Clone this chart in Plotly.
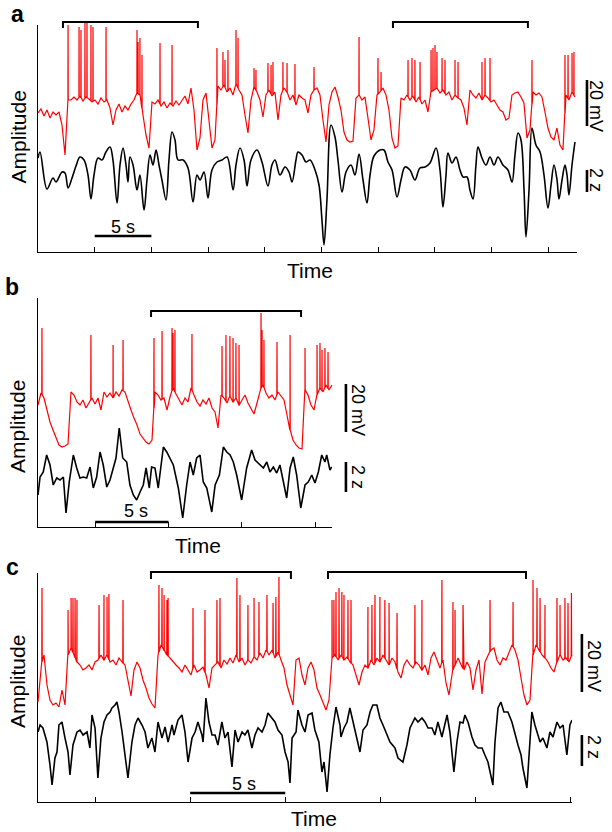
import numpy as np
import plotly.graph_objects as go

W, H = 612, 832
RED = "#ff0000"
FONT = "Arial, 'Liberation Sans', sans-serif"

# ============================ DATA ============================
# Panel a : membrane potential (uniformly sampled, arbitrary amplitude units), spikes, LFP (z)
a_duration = 47.35
a_vm = [139,143,136,142,134,140,137,140,127,97,
        152,152,155,152,156,151,155,153,150,152,
        148,154,150,152,144,127,142,148,140,146,
        142,148,152,159,157,137,117,104,150,148,
        152,146,150,144,149,146,151,147,152,156,
        148,164,142,102,114,152,159,132,104,112,
        166,162,167,160,164,157,168,162,157,137,
        119,152,165,160,152,135,157,162,156,160,
        132,157,164,160,152,157,147,157,154,152,
        139,157,162,164,157,132,110,147,160,165,
        155,142,120,112,110,111,154,157,152,155,
        134,112,122,157,160,164,157,142,114,104,
        106,154,152,157,152,156,150,155,148,152,
        140,160,162,164,159,162,157,160,152,157,
        154,152,144,127,162,157,154,159,152,157,
        154,150,152,147,142,140,132,134,157,159,
        160,155,149,114,122,160,157,159,155,140,
        124,115,112,124,107,102,157,152,160,155]
a_spike_t = [2.65,3.62,3.79,4.14,4.32,4.67,4.85,6.00,8.73,8.82,8.99,9.17,10.76,11.82,
             15.78,16.31,16.49,16.75,17.46,17.64,19.05,19.22,20.28,20.55,20.72,21.60,21.96,
             22.66,24.34,28.31,29.98,30.25,32.63,32.98,33.24,33.69,34.66,34.83,35.01,35.18,
             35.63,35.89,36.77,37.04,39.15,39.42,39.86,43.56,46.47,46.74,47.09,47.26]
a_spike_peak = [227,225,222,230,231,227,225,225,222,210,214,197,209,207,
                204,200,192,202,222,214,184,182,189,187,190,190,189,
                188,185,215,194,180,192,194,192,190,202,204,207,200,
                194,192,192,190,190,194,194,192,197,197,199,200]
a_lfp_t = [0,0.18,0.79,1.32,1.59,2.12,2.38,2.65,3.00,3.35,
           3.70,4.06,4.41,4.67,4.94,5.29,5.64,5.99,6.35,6.61,
           6.97,7.23,7.50,7.76,7.94,8.11,8.38,8.73,8.99,9.35,
           9.61,9.88,10.14,10.41,10.67,10.93,11.29,11.55,11.82,12.08,
           12.35,12.79,13.23,13.67,14.02,14.29,14.64,14.99,15.34,15.78,
           16.23,16.67,17.20,17.46,17.81,18.17,18.43,18.78,19.31,19.75,
           20.28,20.63,20.90,21.34,21.78,22.13,22.40,22.75,22.93,23.28,
           23.63,23.99,24.43,24.78,25.04,25.22,25.48,25.84,26.19,26.45,
           26.81,27.16,27.60,27.95,28.31,28.66,29.01,29.28,29.63,30.16,
           30.51,30.86,31.22,31.66,32.01,32.36,32.80,33.24,33.68,34.13,
           34.57,35.10,35.45,35.71,35.98,36.15,36.51,36.86,37.21,37.48,
           37.83,38.09,38.36,38.62,38.80,39.15,39.50,39.86,40.21,40.56,
           41.00,41.44,41.80,42.06,42.33,42.59,42.86,43.03,43.30,43.56,
           43.91,44.27,44.62,44.97,45.24,45.50,45.77,45.94,46.21,46.47,
           46.65,46.82,47.09,47.35]
a_lfp = [94,100,63,74,70,80,79,64,74,86,
         95,92,77,53,77,94,92,100,105,92,
         49,87,104,87,70,95,87,62,77,42,
         72,97,87,102,87,72,52,92,120,112,
         92,92,84,50,77,72,80,54,82,90,
         92,95,62,87,104,92,66,92,102,90,
         66,87,92,77,85,80,70,92,100,97,
         90,92,82,67,32,7,52,127,115,92,
         60,80,87,77,98,72,49,77,96,102,
         102,90,82,55,72,85,82,72,84,85,
         89,104,82,45,77,99,89,95,82,75,
         75,62,53,87,105,94,87,95,87,95,
         87,82,70,97,119,112,62,15,62,124,
         107,100,77,44,67,87,72,53,72,87,
         77,57,87,110]
a_ticks = [5, 10, 15, 20, 25, 30, 35, 40, 45]
a_brackets = [[2.2, 14.1], [31.3, 43.2]]

# Panel b
b_duration = 20.05
b_vm = [122,134,129,117,105,97,89,82,80,81,83,135,132,125,122,127,119,124,129,123,
        129,117,135,130,134,129,135,131,137,135,125,117,109,102,93,89,85,83,87,135,
        132,127,129,117,130,139,133,127,122,129,125,139,132,125,121,127,123,129,119,115,
        99,132,129,124,131,125,129,122,127,132,124,119,113,124,137,142,134,129,132,127,
        135,131,127,112,97,87,82,79,78,137,132,122,117,132,139,135,142,137,142]
b_spike_t = [0.27,3.61,5.12,5.80,7.91,8.46,9.14,9.21,9.34,10.50,12.55,12.82,13.09,13.30,
             13.50,13.71,15.21,15.28,15.41,16.30,17.19,18.21,19.03,19.23,19.37,19.57,19.78]
b_spike_peak = [199,192,182,187,189,196,199,194,197,193,181,192,191,189,
                184,182,214,197,187,185,192,179,182,184,177,179,175]
b_lfp_t = [0,0.14,0.36,0.59,0.82,1.04,1.28,1.50,1.73,1.91,
           2.13,2.41,2.64,2.86,3.09,3.32,3.55,3.77,4.00,4.23,
           4.45,4.69,4.91,5.14,5.32,5.54,5.78,6.05,6.27,6.50,
           6.73,6.96,7.18,7.37,7.59,7.75,7.98,8.20,8.55,8.78,
           9.00,9.23,9.57,9.87,10.14,10.37,10.59,10.82,11.05,11.27,
           11.51,11.85,12.08,12.37,12.64,12.87,13.10,13.32,13.55,13.89,
           14.23,14.57,14.80,15.14,15.37,15.60,15.82,16.05,16.28,16.50,
           16.73,16.96,17.19,17.41,17.64,17.92,18.21,18.43,18.67,18.89,
           19.12,19.35,19.57,19.69,19.91,20.03]
b_lfp = [32,50,55,72,62,42,49,47,50,14,
         45,72,59,49,50,49,60,39,50,75,
         62,40,47,59,69,99,69,65,42,32,
         27,35,42,59,39,60,59,39,80,75,
         69,62,39,9,42,65,52,69,72,45,
         39,15,42,52,80,75,72,65,52,27,
         59,77,67,62,59,65,55,60,54,62,
         45,29,59,70,52,19,42,45,52,44,
         55,72,65,72,57,60]
b_ticks = [3.9, 8.9, 13.9, 18.9]
b_brackets = [[7.71, 17.94]]

# Panel c
c_duration = 28.08
c_vm = [100,137,147,117,102,97,99,95,112,97,
        147,154,147,140,137,132,134,137,132,140,
        142,147,142,147,140,142,137,144,140,137,
        122,106,132,140,134,122,114,104,98,94,
        147,157,152,147,144,140,137,134,130,137,
        132,127,137,130,132,135,127,114,134,137,
        140,134,142,138,144,139,147,140,144,137,
        142,139,145,142,149,144,152,147,152,144,
        150,142,134,117,108,97,142,144,127,117,
        134,140,132,114,107,100,92,102,144,147,
        142,147,142,145,140,137,127,117,130,137,
        134,142,137,144,140,147,142,137,144,140,
        130,124,137,142,137,134,140,137,132,137,
        127,144,150,142,134,142,119,107,130,137,
        144,137,132,140,134,112,132,142,108,140,
        147,152,154,142,137,144,142,150,157,152,
        142,124,107,97,102,147,157,152,147,144,
        140,134,130,140,147,142,144,140,147]
c_spike_t = [0.21,1.58,1.74,1.84,1.95,2.05,3.21,3.47,3.63,3.73,4.47,6.36,6.52,6.63,6.78,6.84,
             8.15,8.78,9.41,9.57,10.46,10.62,11.04,11.36,11.62,12.04,12.36,12.51,12.67,
             15.46,15.56,15.67,15.83,15.98,16.09,16.30,16.46,17.35,17.56,17.72,17.98,18.24,
             18.46,18.88,19.82,20.19,21.24,21.82,21.93,22.35,23.77,24.98,26.03,26.24,26.40,
             26.66,27.29,27.45,27.71,27.87,28.05]
c_spike_peak = [214,192,204,204,204,202,197,207,205,208,202,217,214,207,202,204,
                194,192,202,204,224,207,197,204,200,207,199,205,225,
                202,202,210,214,210,207,202,202,195,197,207,205,202,
                199,189,197,202,222,200,192,197,202,200,222,214,204,
                197,204,197,204,199,209]
c_lfp_t = [0,0.11,0.26,0.47,0.63,0.74,0.89,1.00,1.10,1.26,
           1.42,1.58,1.68,1.84,2.05,2.21,2.37,2.58,2.73,2.84,
           3.00,3.15,3.31,3.47,3.63,3.79,3.89,4.05,4.15,4.26,
           4.42,4.57,4.73,4.94,5.10,5.26,5.47,5.63,5.78,5.99,
           6.15,6.31,6.52,6.68,6.84,7.05,7.15,7.36,7.57,7.73,
           7.89,8.10,8.26,8.41,8.62,8.68,8.83,8.99,9.15,9.31,
           9.46,9.67,9.83,9.99,10.20,10.36,10.52,10.73,10.88,11.04,
           11.25,11.41,11.57,11.78,11.94,12.09,12.30,12.46,12.62,12.83,
           12.99,13.15,13.25,13.36,13.57,13.67,13.88,14.04,14.20,14.41,
           14.56,14.77,14.93,15.04,15.20,15.35,15.51,15.67,15.88,15.93,
           16.09,16.25,16.40,16.56,16.77,16.93,17.09,17.30,17.46,17.61,
           17.82,17.98,18.14,18.35,18.51,18.77,18.93,19.19,19.40,19.56,
           19.82,19.98,20.19,20.35,20.51,20.72,20.87,21.03,21.24,21.51,
           21.66,21.87,22.03,22.19,22.35,22.45,22.61,22.82,22.98,23.14,
           23.35,23.50,23.66,23.92,24.03,24.19,24.34,24.50,24.71,24.92,
           25.08,25.24,25.40,25.50,25.71,25.87,25.97,26.13,26.24,26.40,
           26.55,26.76,26.92,27.08,27.29,27.45,27.61,27.81,27.97,28.08]
c_lfp = [70,77,74,60,37,17,44,50,77,80,
         64,50,27,57,70,72,67,70,54,87,
         74,24,64,80,87,90,94,97,100,90,
         70,47,24,60,77,84,77,70,54,64,
         50,80,64,75,60,77,67,82,87,70,
         40,64,70,80,67,60,104,80,67,67,
         57,80,64,70,35,72,60,70,67,72,
         54,67,74,70,77,89,84,80,72,67,
         50,40,19,64,70,92,77,70,87,89,
         72,60,30,40,10,47,74,95,77,65,
         74,80,94,80,62,50,72,77,90,97,
         97,84,77,67,60,54,44,40,57,74,
         84,80,84,80,74,74,67,80,65,87,
         70,30,60,80,79,87,80,65,57,54,
         54,47,40,17,60,94,100,90,90,80,
         67,57,47,34,14,60,90,77,70,60,
         64,54,70,65,80,74,77,47,77,82]
c_ticks = [3.0, 8.0, 13.0, 18.0, 23.0, 28.0]
c_brackets = [[5.94, 13.30], [15.25, 25.66]]

SCALE_S = 5      # time scale bar (s)
SCALE_MV = 20    # membrane scale bar (mV)
SCALE_Z = 2      # LFP scale bar (z)

# ============================ LAYOUT CONFIG ============================
panels = [
    dict(letter="a", dur=a_duration, vm=a_vm, st=a_spike_t, sp=a_spike_peak,
         lt=a_lfp_t, lv=a_lfp, ticks=a_ticks, brackets=a_brackets, shape="spline",
         box=(38, 577, 25, 252), xr=(0, 47.53), yr=(0, 227), aux=(0, 612, 6, 262),
         br_y=230, br_drop=6, sb_t0=5.0, sb_y=16, mv_x=48.41, mv_y0=126, mv_per=46 / 20,
         z_y0=60, z_per=22 / 2,
         t_letter=(17, 14.5), t_amp=(17.5, 137), t_time=(310, 270), t_5s=(123, 227),
         t_mv=(596, 106), t_z=(596, 180)),
    dict(letter="b", dur=b_duration, vm=b_vm, st=b_spike_t, sp=b_spike_peak,
         lt=b_lfp_t, lv=b_lfp, ticks=b_ticks, brackets=b_brackets, shape="linear",
         box=(38, 332, 298, 527), xr=(0, 20.05), yr=(0, 229), aux=(0, 612, 280, 545),
         br_y=216, br_drop=6, sb_t0=3.9, sb_y=5, mv_x=21.0, mv_y0=95, mv_per=48 / 20,
         z_y0=35, z_per=30 / 2,
         t_letter=(12, 286.5), t_amp=(17, 427), t_time=(198, 545), t_5s=(136, 511),
         t_mv=(358, 410), t_z=(358, 477)),
    dict(letter="c", dur=c_duration, vm=c_vm, st=c_spike_t, sp=c_spike_peak,
         lt=c_lfp_t, lv=c_lfp, ticks=c_ticks, brackets=c_brackets, shape="linear",
         box=(38, 572, 573, 802), xr=(0, 28.08), yr=(0, 229), aux=(0, 612, 555, 815),
         br_y=230, br_drop=7, sb_t0=8.0, sb_y=9, mv_x=28.60, mv_y0=110, mv_per=58 / 20,
         z_y0=36, z_per=31 / 2,
         t_letter=(12.5, 566.5), t_amp=(17, 682), t_time=(314, 818), t_5s=(244, 784),
         t_mv=(594, 666), t_z=(594, 747)),
]


def px_x(px):
    return px / W


def px_y(py):
    return 1 - py / H


def with_spikes(t, v, st, sp):
    pts = list(zip(t, v))
    for ts, pk in zip(st, sp):
        base = float(np.interp(ts, t, v))
        pts += [(ts - 0.012, base), (ts, pk), (ts + 0.012, base)]
    pts.sort(key=lambda p: p[0])
    return [p[0] for p in pts], [p[1] for p in pts]


fig = go.Figure()
layout = dict(width=W, height=H, margin=dict(l=0, r=0, t=0, b=0),
              paper_bgcolor="white", plot_bgcolor="rgba(0,0,0,0)",
              showlegend=False, font=dict(family=FONT, color="black"))
annotations = []

for i, p in enumerate(panels, start=1):
    L, R, T, B = p["box"]
    aL, aR, aT, aB = p["aux"]
    sx = (p["xr"][1] - p["xr"][0]) / (R - L)
    sy = (p["yr"][1] - p["yr"][0]) / (B - T)
    aux_xr = [p["xr"][0] - (L - aL) * sx, p["xr"][1] + (aR - R) * sx]
    aux_yr = [p["yr"][0] - (aB - B) * sy, p["yr"][1] + (T - aT) * sy]
    j = i + 3

    layout[f"xaxis{i}"] = dict(domain=[px_x(L), px_x(R)], range=list(p["xr"]), anchor=f"y{i}",
                               showline=True, linecolor="black", linewidth=1.4,
                               ticks="inside", ticklen=5, tickwidth=1.3, tickcolor="black",
                               tickmode="array", tickvals=p["ticks"], showticklabels=False,
                               showgrid=False, zeroline=False, fixedrange=True)
    layout[f"yaxis{i}"] = dict(domain=[px_y(B), px_y(T)], range=list(p["yr"]), anchor=f"x{i}",
                               showline=True, linecolor="black", linewidth=1.4, ticks="",
                               showticklabels=False, showgrid=False, zeroline=False,
                               fixedrange=True)
    layout[f"xaxis{j}"] = dict(domain=[px_x(aL), px_x(aR)], range=aux_xr, anchor=f"y{j}",
                               visible=False, fixedrange=True)
    layout[f"yaxis{j}"] = dict(domain=[px_y(aB), px_y(aT)], range=aux_yr, anchor=f"x{j}",
                               visible=False, fixedrange=True)

    # LFP (black) on the main axes
    fig.add_trace(go.Scatter(x=p["lt"], y=p["lv"], mode="lines",
                             line=dict(color="black", width=1.6, shape=p["shape"]),
                             xaxis=f"x{i}", yaxis=f"y{i}", hoverinfo="skip"))
    # membrane potential (red) with spikes
    t_vm = np.linspace(0, p["dur"], len(p["vm"]))
    tx, vy = with_spikes(list(t_vm), list(p["vm"]), p["st"], p["sp"])
    fig.add_trace(go.Scatter(x=tx, y=vy, mode="lines", line=dict(color=RED, width=1.2),
                             xaxis=f"x{j}", yaxis=f"y{j}", hoverinfo="skip"))
    # brackets
    for b0, b1 in p["brackets"]:
        yb = p["br_y"]
        fig.add_trace(go.Scatter(x=[b0, b0, b1, b1], y=[yb - p["br_drop"], yb, yb, yb - p["br_drop"]],
                                 mode="lines", line=dict(color="black", width=2),
                                 xaxis=f"x{j}", yaxis=f"y{j}", hoverinfo="skip"))
    # 5 s scale bar
    fig.add_trace(go.Scatter(x=[p["sb_t0"], p["sb_t0"] + SCALE_S], y=[p["sb_y"], p["sb_y"]],
                             mode="lines", line=dict(color="black", width=2.6),
                             xaxis=f"x{j}", yaxis=f"y{j}", hoverinfo="skip"))
    # 20 mV scale bar
    fig.add_trace(go.Scatter(x=[p["mv_x"], p["mv_x"]],
                             y=[p["mv_y0"], p["mv_y0"] + SCALE_MV * p["mv_per"]],
                             mode="lines", line=dict(color="black", width=2.6),
                             xaxis=f"x{j}", yaxis=f"y{j}", hoverinfo="skip"))
    # 2 z scale bar
    fig.add_trace(go.Scatter(x=[p["mv_x"], p["mv_x"]],
                             y=[p["z_y0"], p["z_y0"] + SCALE_Z * p["z_per"]],
                             mode="lines", line=dict(color="black", width=2.6),
                             xaxis=f"x{j}", yaxis=f"y{j}", hoverinfo="skip"))

    def ann(text, pos, size, angle=0, bold=False):
        annotations.append(dict(text=f"<b>{text}</b>" if bold else text,
                                x=px_x(pos[0]), y=px_y(pos[1]), xref="paper", yref="paper",
                                xanchor="center", yanchor="middle", showarrow=False,
                                textangle=angle, font=dict(size=size, family=FONT, color="black")))

    ann(p["letter"], p["t_letter"], 23, bold=True)
    ann("Amplitude", p["t_amp"], 21, angle=-90)
    ann("Time", p["t_time"], 21)
    ann(f"{SCALE_S} s", p["t_5s"], 18)
    ann(f"{SCALE_MV} mV", p["t_mv"], 18, angle=90)
    ann(f"{SCALE_Z} z", p["t_z"], 18, angle=90)

layout["annotations"] = annotations
fig.update_layout(**layout)
fig.write_html("out.html", config={"displayModeBar": False},
               post_script="document.body.style.margin='0px';document.body.style.overflow='hidden';")
